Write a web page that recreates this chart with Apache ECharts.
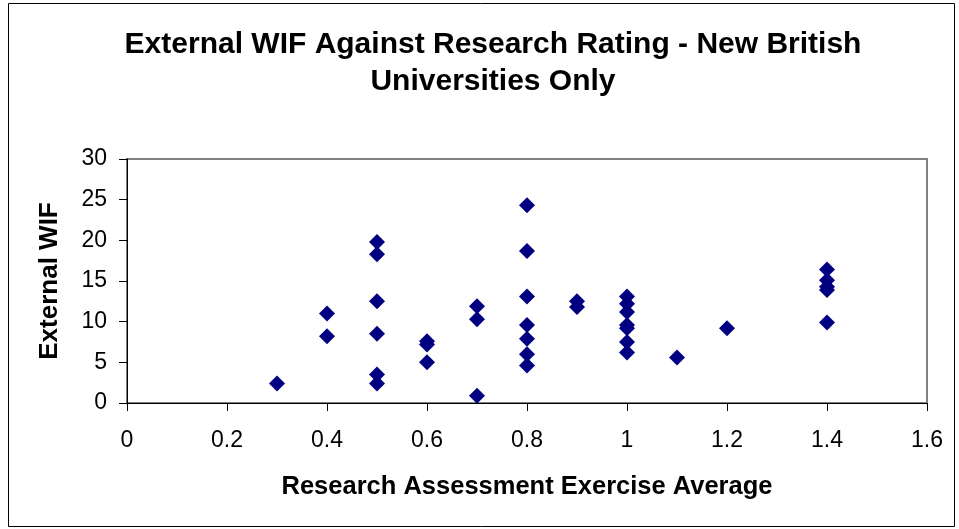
<!DOCTYPE html>
<html>
<head>
<meta charset="utf-8">
<script src="https://cdn.jsdelivr.net/npm/echarts@6/dist/echarts.min.js"></script>
<style>
  html, body { margin: 0; padding: 0; background: #fff; }
  #chart { width: 959px; height: 529px; }
</style>
</head>
<body>
<div id="chart"></div>
<script>
// research rating (x) and external WIF (y)
const raeAverage = [
  0.3,
  0.4, 0.4,
  0.5, 0.5, 0.5, 0.5, 0.5, 0.5,
  0.6, 0.6, 0.6,
  0.7, 0.7, 0.7,
  0.8, 0.8, 0.8, 0.8, 0.8, 0.8, 0.8,
  0.9, 0.9,
  1.0, 1.0, 1.0, 1.0, 1.0, 1.0, 1.0,
  1.1,
  1.2,
  1.4, 1.4, 1.4, 1.4, 1.4
];
const externalWif = [
  2.4,
  11.0, 8.2,
  19.8, 18.3, 12.5, 8.5, 3.5, 2.4,
  7.6, 7.2, 5.0,
  11.9, 10.3, 0.9,
  24.3, 18.7, 13.1, 9.6, 7.9, 6.0, 4.6,
  12.5, 11.8,
  13.1, 12.2, 11.2, 9.6, 9.2, 7.5, 6.2,
  5.6,
  9.2,
  16.4, 15.1, 14.3, 13.9, 9.9
];
const xTicks = [0, 0.2, 0.4, 0.6, 0.8, 1, 1.2, 1.4, 1.6];
const yTicks = [0, 5, 10, 15, 20, 25, 30];

const points = raeAverage.map((x, i) => [x, externalWif[i]]);

const chart = echarts.init(document.getElementById('chart'));
const font = 'Liberation Sans, Arial, sans-serif';

chart.setOption({
  animation: false,
  title: {
    text: 'External WIF Against Research Rating - New British\nUniversities Only',
    left: 488,
    top: 21,
    textAlign: 'center',
    textStyle: { fontFamily: font, fontSize: 30, fontWeight: 'bold', color: '#000', lineHeight: 37 }
  },
  graphic: [{
    type: 'rect',
    shape: { x: 8.5, y: 3.5, width: 946, height: 523 },
    style: { fill: 'none', stroke: '#000', lineWidth: 1 },
    silent: true
  }],
  grid: {
    left: 127, right: 32, top: 159, bottom: 126,
    show: true,
    borderColor: '#808080',
    borderWidth: 2,
    backgroundColor: '#fff'
  },
  xAxis: {
    type: 'value',
    min: xTicks[0],
    max: xTicks[xTicks.length - 1],
    interval: 0.2,
    name: 'Research Assessment Exercise Average',
    nameLocation: 'middle',
    nameGap: 71,
    nameTextStyle: { fontFamily: font, fontSize: 25.5, fontWeight: 'bold', color: '#000' },
    axisLine: { show: true, lineStyle: { color: '#000', width: 1 } },
    axisTick: { show: true, inside: false, length: 8, lineStyle: { color: '#000' } },
    axisLabel: {
      margin: 26,
      fontFamily: font, fontSize: 23, color: '#000',
      formatter: v => String(+v.toFixed(1))
    },
    splitLine: { show: false }
  },
  yAxis: {
    type: 'value',
    min: yTicks[0],
    max: yTicks[yTicks.length - 1],
    interval: 5,
    name: 'External WIF',
    nameLocation: 'middle',
    nameGap: 64,
    nameTextStyle: { fontFamily: font, fontSize: 26, fontWeight: 'bold', color: '#000' },
    axisLine: { show: true, lineStyle: { color: '#000', width: 1 } },
    axisTick: { show: true, inside: false, length: 8, lineStyle: { color: '#000' } },
    axisLabel: { margin: 20, fontFamily: font, fontSize: 23, color: '#000' },
    splitLine: { show: false }
  },
  series: [{
    type: 'scatter',
    symbol: 'diamond',
    symbolSize: [16, 16],
    itemStyle: { color: '#000080', opacity: 1 },
    data: points
  }]
});
</script>
</body>
</html>
